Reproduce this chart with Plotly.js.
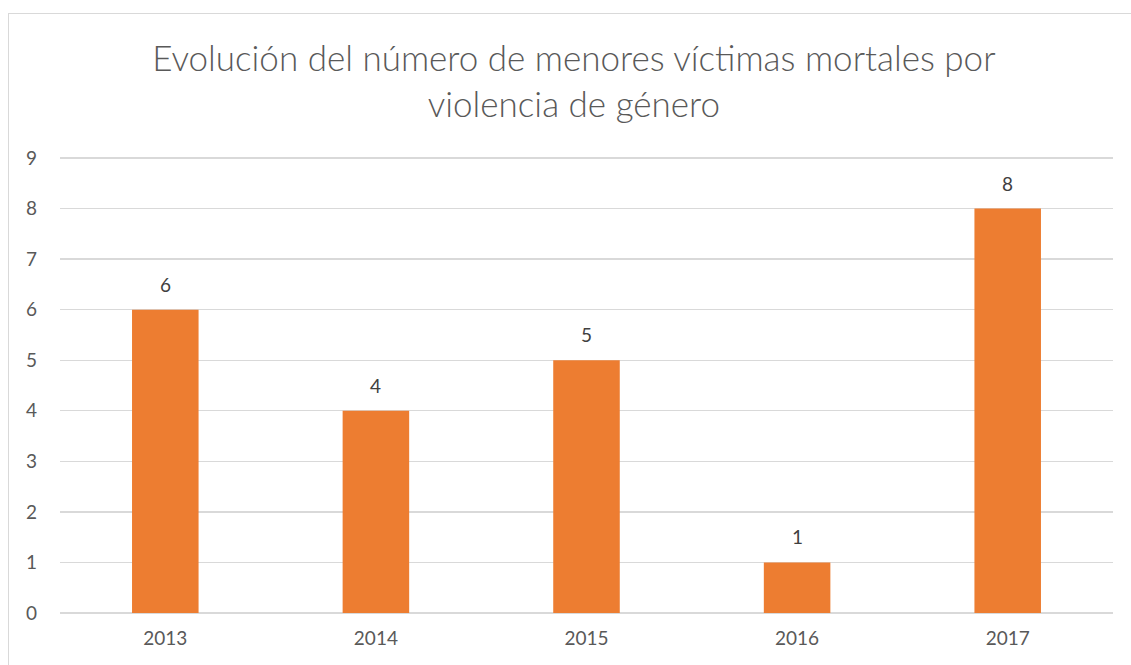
<!DOCTYPE html>
<html>
<head>
<meta charset="utf-8">
<script src="https://cdn.plot.ly/plotly-3.0.1.min.js"></script>
<style>
  html, body { margin: 0; padding: 0; background: #ffffff; overflow: hidden; }
  #chart { width: 1131px; height: 665px; }
  #frame { position: absolute; left: 8px; top: 13px; width: 1140px; height: 680px;
           border: 1px solid #d9d9d9; pointer-events: none; box-sizing: border-box; }
</style>
</head>
<body>
<div id="chart"></div>
<div id="frame"></div>
<script>
const years = ['2013', '2014', '2015', '2016', '2017'];
const victims = [6, 4, 5, 1, 8];
const yTicks = [0, 1, 2, 3, 4, 5, 6, 7, 8, 9];
const chartTitle = 'Evolución del número de menores víctimas mortales por<br>violencia de género';

const FONT = 'Lato, "Open Sans", sans-serif';

const trace = {
  type: 'bar',
  x: years,
  y: victims,
  marker: { color: '#ED7D31' },
  hoverinfo: 'x+y'
};

const labels = years.map((yr, i) => ({
  x: i, y: victims[i], xref: 'x', yref: 'y',
  text: String(victims[i]), showarrow: false,
  yanchor: 'bottom', yshift: 12,
  font: { family: FONT, size: 19, color: '#404040' }
}));

const layout = {
  width: 1131, height: 665,
  margin: { l: 60, r: 18, t: 156, b: 52 },
  paper_bgcolor: '#ffffff', plot_bgcolor: '#ffffff',
  font: { family: FONT, color: '#595959' },
  title: {
    text: chartTitle,
    font: { family: FONT, size: 35, color: '#595959', weight: 300 },
    x: 0.488, xanchor: 'center', xref: 'paper',
    y: 1 - 71 / 665, yanchor: 'top', yref: 'container'
  },
  bargap: 0.684,
  showlegend: false,
  xaxis: {
    type: 'category',
    range: [-0.5, years.length - 0.5],
    tickfont: { family: FONT, size: 19, color: '#595959' },
    showgrid: false, showline: false, ticks: '',
    ticklabelstandoff: 12
  },
  yaxis: {
    range: [0, 9.04],
    tickvals: yTicks,
    tickfont: { family: FONT, size: 19, color: '#595959' },
    showgrid: true, gridcolor: '#d9d9d9', gridwidth: 1.3,
    zeroline: true, zerolinecolor: '#d9d9d9', zerolinewidth: 1.3,
    showline: false, ticks: '',
    ticklabelstandoff: 22
  },
  annotations: labels
};

Plotly.newPlot('chart', [trace], layout, { displayModeBar: false, staticPlot: true });
</script>
</body>
</html>
